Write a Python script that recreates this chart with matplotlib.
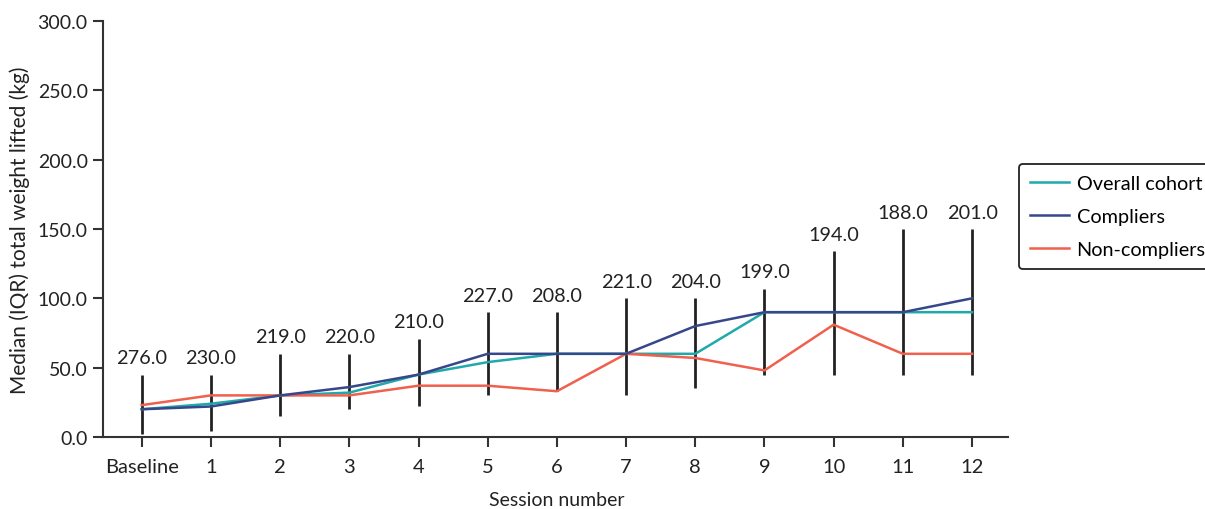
import matplotlib
matplotlib.use("Agg")
import matplotlib.pyplot as plt

plt.rcParams["font.family"] = ["Lato", "DejaVu Sans"]

sessions = ["Baseline", "1", "2", "3", "4", "5", "6", "7", "8", "9", "10", "11", "12"]

overall = [20, 24, 30, 32, 45, 54, 60, 60, 60, 90, 90, 90, 90]
compliers = [20, 22, 30, 36, 45, 60, 60, 60, 80, 90, 90, 90, 100]
non_compliers = [23, 30, 30, 30, 37, 37, 33, 60, 57, 48, 81, 60, 60]

# overall cohort IQR and number of participants per session
iqr_low = [2, 4.5, 15, 20, 22, 30, 33, 30, 35, 45, 45, 45, 45]
iqr_high = [45, 45, 60, 60, 71, 90, 90, 100, 100, 107, 134, 150, 150]
n_obs = [276.0, 230.0, 219.0, 220.0, 210.0, 227.0, 208.0, 221.0, 204.0, 199.0, 194.0, 188.0, 201.0]

TEAL = "#20a9aa"
NAVY = "#36478a"
RED = "#f0604d"
INK = "#222222"

fig = plt.figure(figsize=(12.05, 5.10), dpi=100)
ax = fig.add_axes([103 / 1205, 1 - 438 / 510, (1008 - 103) / 1205, (438 - 22) / 510])

x = list(range(len(sessions)))

ax.vlines(x, iqr_low, iqr_high, color=INK, lw=2, zorder=1)
for xi, top, n in zip(x, iqr_high, n_obs):
    ax.annotate(f"{n:.1f}", (xi, top), xytext=(0, 6), textcoords="offset points",
                ha="center", va="bottom", fontsize=14.3, color=INK)

ax.plot(x, overall, color=TEAL, lw=1.8, label="Overall cohort", zorder=2)
ax.plot(x, compliers, color=NAVY, lw=1.8, label="Compliers", zorder=3)
ax.plot(x, non_compliers, color=RED, lw=1.8, label="Non-compliers", zorder=2)

ax.set_xlim(-0.56, 12.52)
ax.set_ylim(0, 300)
ax.set_xticks(x)
ax.set_xticklabels(sessions)
ax.set_yticks(range(0, 301, 50))
ax.set_yticklabels([f"{v:.1f}" for v in range(0, 301, 50)])

for side in ("top", "right"):
    ax.spines[side].set_visible(False)
for side in ("left", "bottom"):
    ax.spines[side].set_color("#333333")
    ax.spines[side].set_linewidth(1.5)
ax.tick_params(direction="out", length=7, width=1.5, color="#333333", labelcolor=INK)
ax.tick_params(axis="x", pad=8, labelsize=14.5)
ax.tick_params(axis="y", pad=4, labelsize=14)

ax.set_xlabel("Session number", fontsize=14, color=INK)
ax.set_ylabel("Median (IQR) total weight lifted (kg)", fontsize=15, color=INK)
ax.xaxis.set_label_coords(0.5017, -0.13)
ax.yaxis.set_label_coords(-0.081, 0.5)

leg = fig.legend(loc="upper left", bbox_to_anchor=(1019 / 1205, 1 - 165 / 510),
                 fontsize=14.3, frameon=True, fancybox=True, handlelength=1.95,
                 borderpad=0.55, labelspacing=0.8, handletextpad=0.4,
                 borderaxespad=0)
leg.get_frame().set_edgecolor(INK)
leg.get_frame().set_linewidth(1.3)
leg.get_frame().set_alpha(1)

fig.savefig("out.png", dpi=100)
